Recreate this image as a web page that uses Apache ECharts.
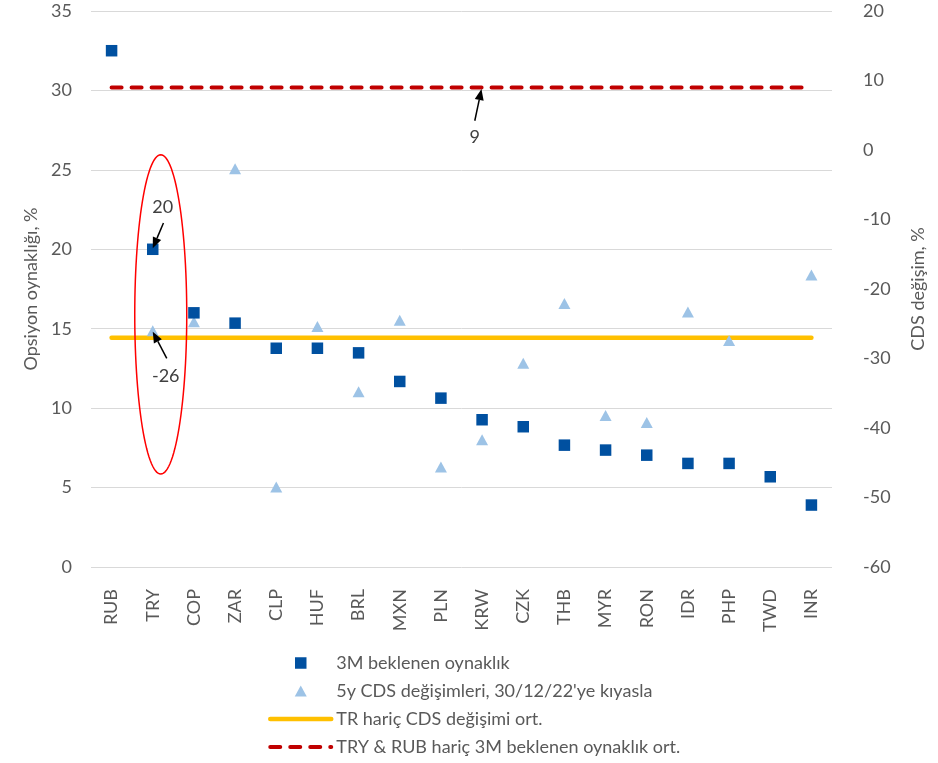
<!DOCTYPE html>
<html>
<head>
<meta charset="utf-8">
<script src="https://cdn.jsdelivr.net/npm/echarts@6/dist/echarts.min.js"></script>
<style>
html,body{margin:0;padding:0;background:#fff;}
#chart{width:938px;height:763px;}
</style>
</head>
<body>
<div id="chart"></div>
<script>
const categories = ['RUB','TRY','COP','ZAR','CLP','HUF','BRL','MXN','PLN','KRW','CZK','THB','MYR','RON','IDR','PHP','TWD','INR'];
const vol3m = [32.5, 20.0, 16.0, 15.35, 13.77, 13.77, 13.48, 11.68, 10.63, 9.27, 8.83, 7.67, 7.36, 7.04, 6.52, 6.52, 5.68, 3.9];
const cdsChange = [null, -26.0, -24.7, -2.7, -48.5, -25.4, -34.8, -24.5, -45.6, -41.7, -30.7, -22.1, -38.2, -39.2, -23.3, -27.4, null, -18.0];
const cdsAvgExTR = -27;
const volAvgExTRYRUB = 9;
const leftTicks = {min: 0, max: 35, interval: 5};
const rightTicks = {min: -60, max: 20, interval: 10};
const seriesNames = ['3M beklenen oynaklık', "5y CDS değişimleri, 30/12/22'ye kıyasla", 'TR hariç CDS değişimi ort.', 'TRY & RUB hariç 3M beklenen oynaklık ort.'];
const annotations = {tryVol: '20', tryCds: '-26', avgLine: '9'};

const FONT = 'Lato';
const TXT = '#595959';
const C_SQ = '#0050A0', C_TRI = '#9DC3E6', C_YEL = '#FFC000', C_RED = '#C00000';
const chart = echarts.init(document.getElementById('chart'), null, {renderer: 'canvas'});
const first = categories[0], last = categories[categories.length - 1];
const noSym = {color: 'rgba(0,0,0,0)', borderWidth: 0, borderColor: 'rgba(0,0,0,0)'};
// legend icons: shape centred inside a 61x12 box
const iconSquare = 'path://M0,0 M61,12 M24.75,0.25 L36.25,0.25 L36.25,11.75 L24.75,11.75 Z';
const iconTriangle = 'path://M0,0 M61,12 M30.5,0.5 L36.5,11.5 L24.5,11.5 Z';

const option = {
  animation: false,
  backgroundColor: '#fff',
  textStyle: {fontFamily: FONT},
  grid: {left: 91, right: 106, top: 11, bottom: 196, containLabel: false},
  xAxis: {
    type: 'category', data: categories, boundaryGap: true,
    axisLine: {show: false}, axisTick: {show: false},
    axisLabel: {rotate: 90, margin: 22, color: TXT, fontSize: 18, fontFamily: FONT}
  },
  yAxis: [
    {
      type: 'value', min: leftTicks.min, max: leftTicks.max, interval: leftTicks.interval,
      name: 'Opsiyon oynaklığı, %', nameLocation: 'middle', nameRotate: 90, nameGap: 45,
      nameTextStyle: {color: TXT, fontSize: 18, fontFamily: FONT},
      axisLine: {show: false}, axisTick: {show: false},
      axisLabel: {color: TXT, fontSize: 18, margin: 19, fontFamily: FONT},
      splitLine: {show: true, lineStyle: {color: '#D9D9D9', width: 1}}
    },
    {
      type: 'value', position: 'right', min: rightTicks.min, max: rightTicks.max, interval: rightTicks.interval,
      name: 'CDS değişim, %', nameLocation: 'middle', nameRotate: 90, nameGap: 77,
      nameTextStyle: {color: TXT, fontSize: 18, fontFamily: FONT},
      axisLine: {show: false}, axisTick: {show: false},
      axisLabel: {color: TXT, fontSize: 18, margin: 31, align: 'left', fontFamily: FONT},
      splitLine: {show: false}
    }
  ],
  legend: {
    orient: 'vertical', left: 268, top: 654, padding: 0,
    itemWidth: 61, itemHeight: 12, itemGap: 10,
    symbolKeepAspect: true,
    textStyle: {color: TXT, fontSize: 18, fontFamily: FONT},
    data: [
      {name: seriesNames[0], icon: iconSquare, itemStyle: {color: C_SQ, opacity: 1}},
      {name: seriesNames[1], icon: iconTriangle, itemStyle: {color: C_TRI, opacity: 1}},
      {name: seriesNames[2], itemStyle: noSym, lineStyle: {color: C_YEL, width: 4.5, cap: 'round', type: 'solid'}},
      {name: seriesNames[3], itemStyle: noSym, lineStyle: {color: C_RED, width: 4, cap: 'round', type: [10, 10]}}
    ]
  },
  series: [
    {
      name: seriesNames[2], type: 'line', yAxisIndex: 1, z: 2,
      data: [[first, cdsAvgExTR], [last, cdsAvgExTR]],
      symbol: 'none', showSymbol: false,
      lineStyle: {color: C_YEL, width: 4.5, cap: 'round'},
      itemStyle: {color: C_YEL}
    },
    {
      name: seriesNames[3], type: 'line', yAxisIndex: 1, z: 2,
      data: [[first, volAvgExTRYRUB], [last, volAvgExTRYRUB]],
      symbol: 'none', showSymbol: false,
      lineStyle: {color: C_RED, width: 4, type: [10, 10], cap: 'round'},
      itemStyle: {color: C_RED}
    },
    {
      name: seriesNames[0], type: 'scatter', yAxisIndex: 0, z: 4,
      data: vol3m, symbol: 'rect', symbolSize: 11.5,
      itemStyle: {color: C_SQ, opacity: 1}
    },
    {
      name: seriesNames[1], type: 'scatter', yAxisIndex: 1, z: 3,
      data: cdsChange, symbol: 'triangle', symbolSize: [12, 11],
      itemStyle: {color: C_TRI, opacity: 1}
    }
  ]
};
chart.setOption(option);

function px(cat, val, axisIdx) {
  return chart.convertToPixel({xAxisIndex: 0, yAxisIndex: axisIdx}, [cat, val]);
}
function arrow(tip, tail) {
  const dx = tip[0] - tail[0], dy = tip[1] - tail[1];
  const len = Math.sqrt(dx * dx + dy * dy);
  const ux = dx / len, uy = dy / len;
  const hl = 11, hw = 4.5;
  const bx = tip[0] - ux * hl, by = tip[1] - uy * hl;
  return [
    {type: 'line', shape: {x1: tail[0], y1: tail[1], x2: bx, y2: by}, style: {stroke: '#000', lineWidth: 1.5}, z: 100},
    {type: 'polygon', shape: {points: [[tip[0], tip[1]], [bx - uy * hw, by + ux * hw], [bx + uy * hw, by - ux * hw]]}, style: {fill: '#000'}, z: 100}
  ];
}
function label(txt, x, y) {
  return {type: 'text', x: x, y: y, style: {text: txt, fill: '#404040', font: '18px ' + FONT, align: 'center', verticalAlign: 'middle'}, z: 100};
}

const pVol = px('TRY', vol3m[1], 0);
const pCds = px('TRY', cdsChange[1], 1);
const pAvg = px('KRW', volAvgExTRYRUB, 1);
const eTop = px('TRY', 25.95, 0), eBot = px('TRY', 5.85, 0);
const ecx = eTop[0] + 8, ecy = (eTop[1] + eBot[1]) / 2, erx = 26, ery = (eBot[1] - eTop[1]) / 2;
const ellPts = [];
for (let i = 0; i < 120; i++) {
  const t = i / 120 * Math.PI * 2;
  ellPts.push([ecx + erx * Math.cos(t), ecy + ery * Math.sin(t)]);
}
const graphics = [
  {type: 'polygon', shape: {points: ellPts}, style: {fill: 'none', stroke: '#FF0000', lineWidth: 1.5}, z: 90}
]
  .concat(arrow([pVol[0], pVol[1] - 1], [pVol[0] + 10.7, pVol[1] - 26.3]))
  .concat([label(annotations.tryVol, pVol[0] + 10, pVol[1] - 42)])
  .concat(arrow([pCds[0], pCds[1] + 1], [pCds[0] + 14, pCds[1] + 27.6]))
  .concat([label(annotations.tryCds, pCds[0] + 13, pCds[1] + 45)])
  .concat(arrow([pAvg[0] - 0.6, pAvg[1] + 1.6], [pAvg[0] - 7.3, pAvg[1] + 33.3]))
  .concat([label(annotations.avgLine, pAvg[0] - 7.3, pAvg[1] + 50)]);
chart.setOption({graphic: graphics});
</script>
</body>
</html>
